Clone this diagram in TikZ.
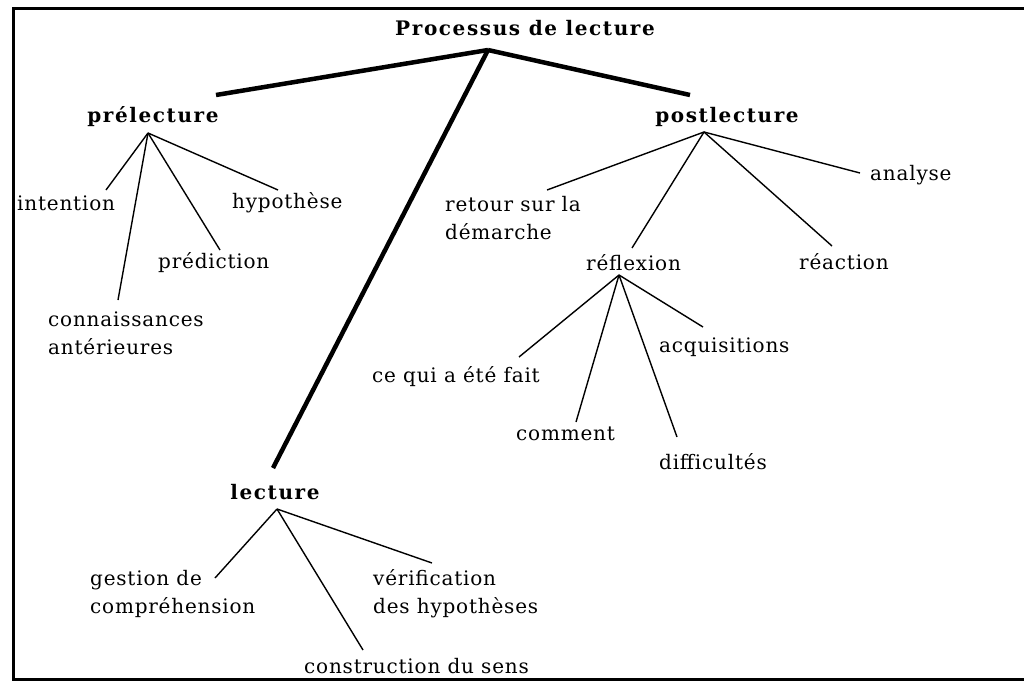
\documentclass[tikz,border=0pt]{standalone}
\usepackage{fontspec}
\setmainfont[LetterSpace=4]{DejaVu Serif}
\newfontfamily\headfont[LetterSpace=8]{DejaVu Serif}

\begin{document}
\begin{tikzpicture}
  [
    x                  = 1pt,
    y                  = -1pt,
    branch/.style      = {draw, line width=4.5pt},
    twig/.style        = {draw, line width=1.4pt},
    head/.style        = {font=\fontsize{20}{28}\selectfont\headfont\bfseries, inner sep=0pt},
    leaf/.style        = {font=\fontsize{20}{28}\selectfont, inner sep=0pt, anchor=west, align=left}
  ]
  \useasboundingbox (0,0) rectangle (1024,683);
  \draw[line width=3pt] (13,8) rectangle (1040,679);

  % titres
  \node[head] (processus) at (525,28) {Processus de lecture};
  \node[head] (prelecture) at (153,117) {prélecture};
  \node[head] (postlecture) at (727,117) {postlecture};
  \node[head] (lecture) at (275,492) {lecture};

  % prélecture
  \node[leaf] (intention) at (17,203) {intention};
  \node[leaf] (hypothese) at (232,203) {hypothèse};
  \node[leaf] (prediction) at (158,263) {prédiction};
  \node[leaf] (connaissances) at (48,333) {connaissances\\antérieures};

  % postlecture
  \node[leaf] (retour) at (445,218) {retour sur la\\démarche};
  \node[leaf] (analyse) at (870,175) {analyse};
  \node[leaf] (reflexion) at (586,263) {réflexion};
  \node[leaf] (reaction) at (799,262) {réaction};
  \node[leaf] (acquisitions) at (659,347) {acquisitions};
  \node[leaf] (fait) at (372,377) {ce qui a été fait};
  \node[leaf] (comment) at (516,434) {comment};
  \node[leaf] (difficultes) at (659,462) {difficultés};

  % lecture
  \node[leaf] (gestion) at (90,594) {gestion de\\compréhension};
  \node[leaf] (verification) at (373,594) {vérification\\des hypothèses};
  \node[leaf] (construction) at (304,666) {construction du sens};

  % points d'attache
  \coordinate (processus-j) at (488,50);
  \coordinate (prelecture-t) at (216,95);
  \coordinate (postlecture-t) at (690,95);
  \coordinate (lecture-t) at (273,468);
  \coordinate (prelecture-j) at (148,133);
  \coordinate (intention-t) at (106,190);
  \coordinate (connaissances-t) at (118,300);
  \coordinate (prediction-t) at (220,250);
  \coordinate (hypothese-t) at (278,190);
  \coordinate (postlecture-j) at (704,132);
  \coordinate (retour-t) at (547,190);
  \coordinate (reflexion-t) at (632,248);
  \coordinate (reaction-t) at (832,246);
  \coordinate (analyse-t) at (860,173);
  \coordinate (reflexion-j) at (619,275);
  \coordinate (fait-t) at (519,357);
  \coordinate (comment-t) at (576,422);
  \coordinate (difficultes-t) at (677,437);
  \coordinate (acquisitions-t) at (703,327);
  \coordinate (lecture-j) at (277,509);
  \coordinate (gestion-t) at (215,578);
  \coordinate (construction-t) at (363,650);
  \coordinate (verification-t) at (432,563);

  \foreach \t in {prelecture, postlecture, lecture}
    \path[branch] (processus-j) -- (\t-t);
  \foreach \t in {intention, connaissances, prediction, hypothese}
    \path[twig] (prelecture-j) -- (\t-t);
  \foreach \t in {retour, reflexion, reaction, analyse}
    \path[twig] (postlecture-j) -- (\t-t);
  \foreach \t in {fait, comment, difficultes, acquisitions}
    \path[twig] (reflexion-j) -- (\t-t);
  \foreach \t in {gestion, construction, verification}
    \path[twig] (lecture-j) -- (\t-t);
\end{tikzpicture}
\end{document}
